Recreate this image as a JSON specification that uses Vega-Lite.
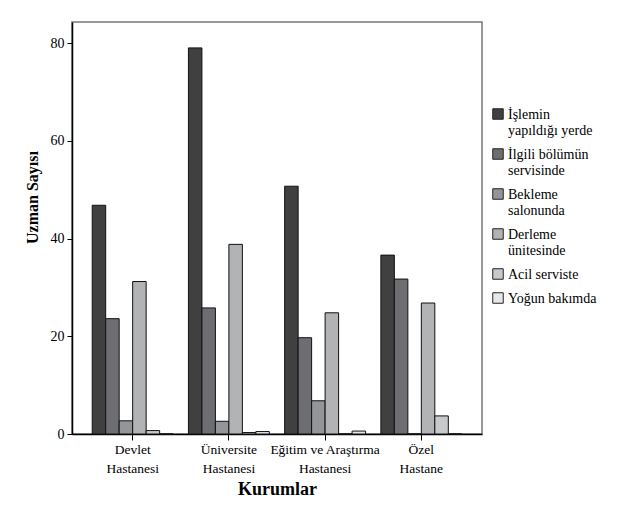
{
  "$schema": "https://vega.github.io/schema/vega-lite/v6.json",
  "autosize": "none",
  "width": 410,
  "height": 412,
  "padding": {"left": 72, "top": 22, "right": 143, "bottom": 83},
  "background": "white",
  "config": {
    "font": "Liberation Serif",
    "view": {"stroke": "#777777", "strokeWidth": 1.5},
    "axis": {"labelFont": "Liberation Serif", "titleFont": "Liberation Serif"},
    "legend": {"labelFont": "Liberation Serif", "titleFont": "Liberation Serif"}
  },
  "data": {
    "values": [
      {"kurum": "Devlet Hastanesi", "yer": "İşlemin yapıldığı yerde", "sayi": 46.8},
      {"kurum": "Devlet Hastanesi", "yer": "İlgili bölümün servisinde", "sayi": 23.6},
      {"kurum": "Devlet Hastanesi", "yer": "Bekleme salonunda", "sayi": 2.7},
      {"kurum": "Devlet Hastanesi", "yer": "Derleme ünitesinde", "sayi": 31.2},
      {"kurum": "Devlet Hastanesi", "yer": "Acil serviste", "sayi": 0.7},
      {"kurum": "Devlet Hastanesi", "yer": "Yoğun bakımda", "sayi": 0},
      {"kurum": "Üniversite Hastanesi", "yer": "İşlemin yapıldığı yerde", "sayi": 79},
      {"kurum": "Üniversite Hastanesi", "yer": "İlgili bölümün servisinde", "sayi": 25.8},
      {"kurum": "Üniversite Hastanesi", "yer": "Bekleme salonunda", "sayi": 2.6},
      {"kurum": "Üniversite Hastanesi", "yer": "Derleme ünitesinde", "sayi": 38.8},
      {"kurum": "Üniversite Hastanesi", "yer": "Acil serviste", "sayi": 0.3},
      {"kurum": "Üniversite Hastanesi", "yer": "Yoğun bakımda", "sayi": 0.5},
      {"kurum": "Eğitim ve Araştırma Hastanesi", "yer": "İşlemin yapıldığı yerde", "sayi": 50.7},
      {"kurum": "Eğitim ve Araştırma Hastanesi", "yer": "İlgili bölümün servisinde", "sayi": 19.7},
      {"kurum": "Eğitim ve Araştırma Hastanesi", "yer": "Bekleme salonunda", "sayi": 6.8},
      {"kurum": "Eğitim ve Araştırma Hastanesi", "yer": "Derleme ünitesinde", "sayi": 24.8},
      {"kurum": "Eğitim ve Araştırma Hastanesi", "yer": "Acil serviste", "sayi": 0},
      {"kurum": "Eğitim ve Araştırma Hastanesi", "yer": "Yoğun bakımda", "sayi": 0.6},
      {"kurum": "Özel Hastane", "yer": "İşlemin yapıldığı yerde", "sayi": 36.6},
      {"kurum": "Özel Hastane", "yer": "İlgili bölümün servisinde", "sayi": 31.7},
      {"kurum": "Özel Hastane", "yer": "Bekleme salonunda", "sayi": 0},
      {"kurum": "Özel Hastane", "yer": "Derleme ünitesinde", "sayi": 26.8},
      {"kurum": "Özel Hastane", "yer": "Acil serviste", "sayi": 3.7},
      {"kurum": "Özel Hastane", "yer": "Yoğun bakımda", "sayi": 0}
    ]
  },
  "mark": {"type": "bar", "stroke": "#111111", "strokeWidth": 1},
  "encoding": {
    "x": {
      "field": "kurum",
      "type": "nominal",
      "sort": ["Devlet Hastanesi", "Üniversite Hastanesi", "Eğitim ve Araştırma Hastanesi", "Özel Hastane"],
      "scale": {"paddingInner": 0.159, "paddingOuter": 0.21},
      "axis": {
        "title": "Kurumlar",
        "titleFontSize": 18,
        "titleFontWeight": "bold",
        "titleColor": "black",
        "titlePadding": 6,
        "labelAngle": 0,
        "labelFontSize": 13.5,
        "labelColor": "black",
        "labelLineHeight": 19,
        "labelPadding": 2,
        "labelExpr": "[slice(datum.label, 0, lastindexof(datum.label, ' ')), slice(datum.label, lastindexof(datum.label, ' ') + 1)]",
        "tickSize": 6,
        "tickColor": "black",
        "domainColor": "black",
        "domainWidth": 1.5,
        "labelLimit": 200
      }
    },
    "xOffset": {
      "field": "yer",
      "type": "nominal",
      "sort": ["İşlemin yapıldığı yerde", "İlgili bölümün servisinde", "Bekleme salonunda", "Derleme ünitesinde", "Acil serviste", "Yoğun bakımda"],
      "scale": {"paddingInner": 0, "paddingOuter": 0}
    },
    "y": {
      "field": "sayi",
      "type": "quantitative",
      "scale": {"domain": [0, 84.3], "nice": false},
      "axis": {
        "title": "Uzman Sayısı",
        "titleFontSize": 16,
        "titleFontWeight": "bold",
        "titleColor": "black",
        "titleX": -40,
        "titleY": 175,
        "titleAlign": "center",
        "titleBaseline": "middle",
        "values": [0, 20, 40, 60, 80],
        "grid": false,
        "labelFontSize": 14,
        "labelColor": "black",
        "labelPadding": 3,
        "tickSize": 5,
        "tickColor": "black",
        "domainColor": "black",
        "domainWidth": 1.5
      }
    },
    "fill": {
      "field": "yer",
      "type": "nominal",
      "sort": ["İşlemin yapıldığı yerde", "İlgili bölümün servisinde", "Bekleme salonunda", "Derleme ünitesinde", "Acil serviste", "Yoğun bakımda"],
      "scale": {"range": ["#404041", "#6d6e71", "#939598", "#b1b3b5", "#c8c9cb", "#e6e7e8"]},
      "legend": {
        "title": null,
        "orient": "none",
        "legendX": 419,
        "legendY": 85,
        "symbolType": "square",
        "symbolSize": 110,
        "symbolStrokeColor": "#222222",
        "symbolStrokeWidth": 1,
        "labelFont": "Liberation Serif",
        "labelFontSize": 14,
        "labelColor": "black",
        "labelLineHeight": 16,
        "labelBaseline": "alphabetic",
        "labelOffset": 3,
        "rowPadding": 8,
        "labelLimit": 200,
        "encode": {"labels": {"update": {"dy": {"value": 5}}}},
        "labelExpr": "datum.label == 'İşlemin yapıldığı yerde' ? ['İşlemin', 'yapıldığı yerde'] : datum.label == 'İlgili bölümün servisinde' ? ['İlgili bölümün', 'servisinde'] : datum.label == 'Bekleme salonunda' ? ['Bekleme', 'salonunda'] : datum.label == 'Derleme ünitesinde' ? ['Derleme', 'ünitesinde'] : datum.label"
      }
    }
  }
}
